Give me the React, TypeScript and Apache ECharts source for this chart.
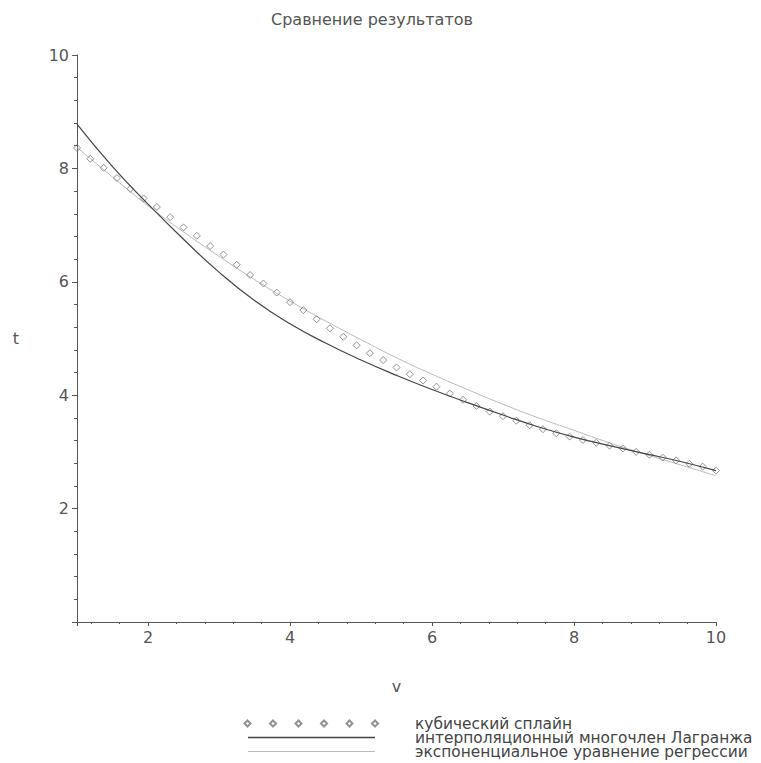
import React, { useEffect, useRef } from "react";
import * as echarts from "echarts";

const TITLE = "Сравнение результатов";
const X_NAME = "v";
const Y_NAME = "t";
const SERIES_NAMES = [
  "кубический сплайн",
  "интерполяционный многочлен Лагранжа",
  "экспоненциальное уравнение регрессии",
];

// cubic spline (diamond points)
const splineX = [
  1, 1.1875, 1.375, 1.5625, 1.75, 1.9375, 2.125, 2.3125, 2.5, 2.6875, 2.875, 3.0625,
  3.25, 3.4375, 3.625, 3.8125, 4, 4.1875, 4.375, 4.5625, 4.75, 4.9375, 5.125, 5.3125,
  5.5, 5.6875, 5.875, 6.0625, 6.25, 6.4375, 6.625, 6.8125, 7, 7.1875, 7.375, 7.5625,
  7.75, 7.9375, 8.125, 8.3125, 8.5, 8.6875, 8.875, 9.0625, 9.25, 9.4375, 9.625, 9.8125, 10,
];
const splineY = [
  8.36, 8.17, 8.01, 7.83, 7.64, 7.47, 7.32, 7.14, 6.96, 6.81, 6.63, 6.48,
  6.3, 6.12, 5.97, 5.81, 5.64, 5.5, 5.34, 5.18, 5.03, 4.88, 4.74, 4.62,
  4.49, 4.37, 4.26, 4.15, 4.03, 3.92, 3.81, 3.71, 3.63, 3.55, 3.47, 3.4,
  3.33, 3.27, 3.21, 3.16, 3.11, 3.06, 3.0, 2.95, 2.9, 2.85, 2.79, 2.74, 2.67,
];

// Lagrange polynomial & exponential regression, sampled every 0.5
const curveX = [1, 1.5, 2, 2.5, 3, 3.5, 4, 4.5, 5, 5.5, 6, 6.5, 7, 7.5, 8, 8.5, 9, 9.5, 10];
const lagrangeY = [8.78, 8.03, 7.37, 6.75, 6.17, 5.67, 5.26, 4.92, 4.62, 4.35, 4.1, 3.87, 3.65, 3.44, 3.26, 3.11, 2.97, 2.83, 2.67];
const regressionY = [8.37, 7.85, 7.34, 6.88, 6.45, 6.04, 5.66, 5.31, 4.98, 4.66, 4.37, 4.1, 3.84, 3.6, 3.38, 3.16, 2.96, 2.77, 2.58];

const Y_TICKS = [2, 4, 6, 8, 10];

const FONT = "DejaVu Sans";
const diamondsIcon =
  "path://M3,0L6,3L3,6L0,3Z M28.5,0L31.5,3L28.5,6L25.5,3Z M54,0L57,3L54,6L51,3Z M79.5,0L82.5,3L79.5,6L76.5,3Z M105,0L108,3L105,6L102,3Z M130.5,0L133.5,3L130.5,6L127.5,3Z";

export default function App() {
  const ref = useRef<HTMLDivElement>(null);
  useEffect(() => {
    if (!ref.current) return;
    const chart = echarts.init(ref.current, undefined, { renderer: "svg" });
    const zip = (xs: number[], ys: number[]) => xs.map((x, i) => [x, ys[i]]);
    const legendText = (pad: number) => ({
      fontFamily: FONT,
      fontSize: 15.4,
      lineHeight: 13,
      color: "#444",
      padding: [0, 0, 0, pad],
    });
    chart.setOption({
      animation: false,
      backgroundColor: "#fff",
      title: {
        text: TITLE,
        left: 271,
        top: 11,
        padding: 0,
        textStyle: { fontFamily: FONT, fontSize: 16, fontWeight: "normal", color: "#555" },
      },
      grid: { left: 77, right: 45, top: 55, bottom: 141, containLabel: false, outerBoundsMode: "none" },
      xAxis: {
        type: "value",
        min: 1,
        max: 10,
        splitNumber: 5,
        name: X_NAME,
        nameLocation: "middle",
        nameGap: 56,
        nameTextStyle: { fontFamily: FONT, fontSize: 16, color: "#555" },
        axisLine: { show: true, onZero: false, lineStyle: { color: "#555", width: 1 } },
        axisTick: { show: true, length: 4, lineStyle: { color: "#555" } },
        minorTick: { show: true, splitNumber: 5, length: 2, lineStyle: { color: "#555" } },
        splitLine: { show: false },
        axisLabel: {
          showMinLabel: false,
          margin: 7,
          fontFamily: FONT,
          fontSize: 16,
          color: "#555",
        },
      },
      yAxis: {
        type: "value",
        min: 0,
        max: 10,
        interval: 2,
        name: Y_NAME,
        nameLocation: "middle",
        nameRotate: 0,
        nameGap: 58,
        nameTextStyle: { fontFamily: FONT, fontSize: 16, color: "#555" },
        axisLine: { show: true, onZero: false, lineStyle: { color: "#555", width: 1 } },
        axisTick: { show: true, length: 5, lineStyle: { color: "#555" } },
        minorTick: { show: true, splitNumber: 5, length: 3, lineStyle: { color: "#555" } },
        splitLine: { show: false },
        axisLabel: {
          showMinLabel: false,
          margin: 8,
          fontFamily: FONT,
          fontSize: 16,
          color: "#555",
          formatter: (v: number) => (Y_TICKS.includes(v) ? String(v) : ""),
        },
      },
      legend: [
        {
          data: [{ name: SERIES_NAMES[0], icon: diamondsIcon }],
          left: 243.5,
          top: 716,
          padding: 0,
          itemWidth: 133.5,
          itemHeight: 6,
          selectedMode: false,
          textStyle: legendText(32),
        },
        {
          data: [{ name: SERIES_NAMES[1], icon: "rect" }],
          left: 248,
          top: 730,
          padding: 0,
          itemWidth: 127,
          itemHeight: 1.5,
          selectedMode: false,
          itemStyle: { borderWidth: 0 },
          textStyle: legendText(35),
        },
        {
          data: [{ name: SERIES_NAMES[2], icon: "rect" }],
          left: 248,
          top: 744,
          padding: 0,
          itemWidth: 127,
          itemHeight: 1,
          selectedMode: false,
          itemStyle: { borderWidth: 0 },
          textStyle: legendText(35),
        },
      ],
      series: [
        {
          name: SERIES_NAMES[0],
          type: "scatter",
          symbol: "diamond",
          symbolSize: 7,
          data: zip(splineX, splineY),
          itemStyle: { color: "rgba(255,255,255,0)", borderColor: "#777", borderWidth: 1 },
          z: 2,
        },
        {
          name: SERIES_NAMES[1],
          type: "line",
          color: "#444",
          smooth: true,
          showSymbol: false,
          symbol: "none",
          data: zip(curveX, lagrangeY),
          lineStyle: { color: "#444", width: 1.2 },
          z: 3,
        },
        {
          name: SERIES_NAMES[2],
          type: "line",
          color: "#bbb",
          smooth: true,
          showSymbol: false,
          symbol: "none",
          data: zip(curveX, regressionY),
          lineStyle: { color: "#bbb", width: 1 },
          z: 1,
        },
      ],
    });
    return () => chart.dispose();
  }, []);
  return (
    <div
      ref={ref}
      style={{ position: "absolute", left: 0, top: 0, width: 761, height: 763, background: "#fff" }}
    />
  );
}
